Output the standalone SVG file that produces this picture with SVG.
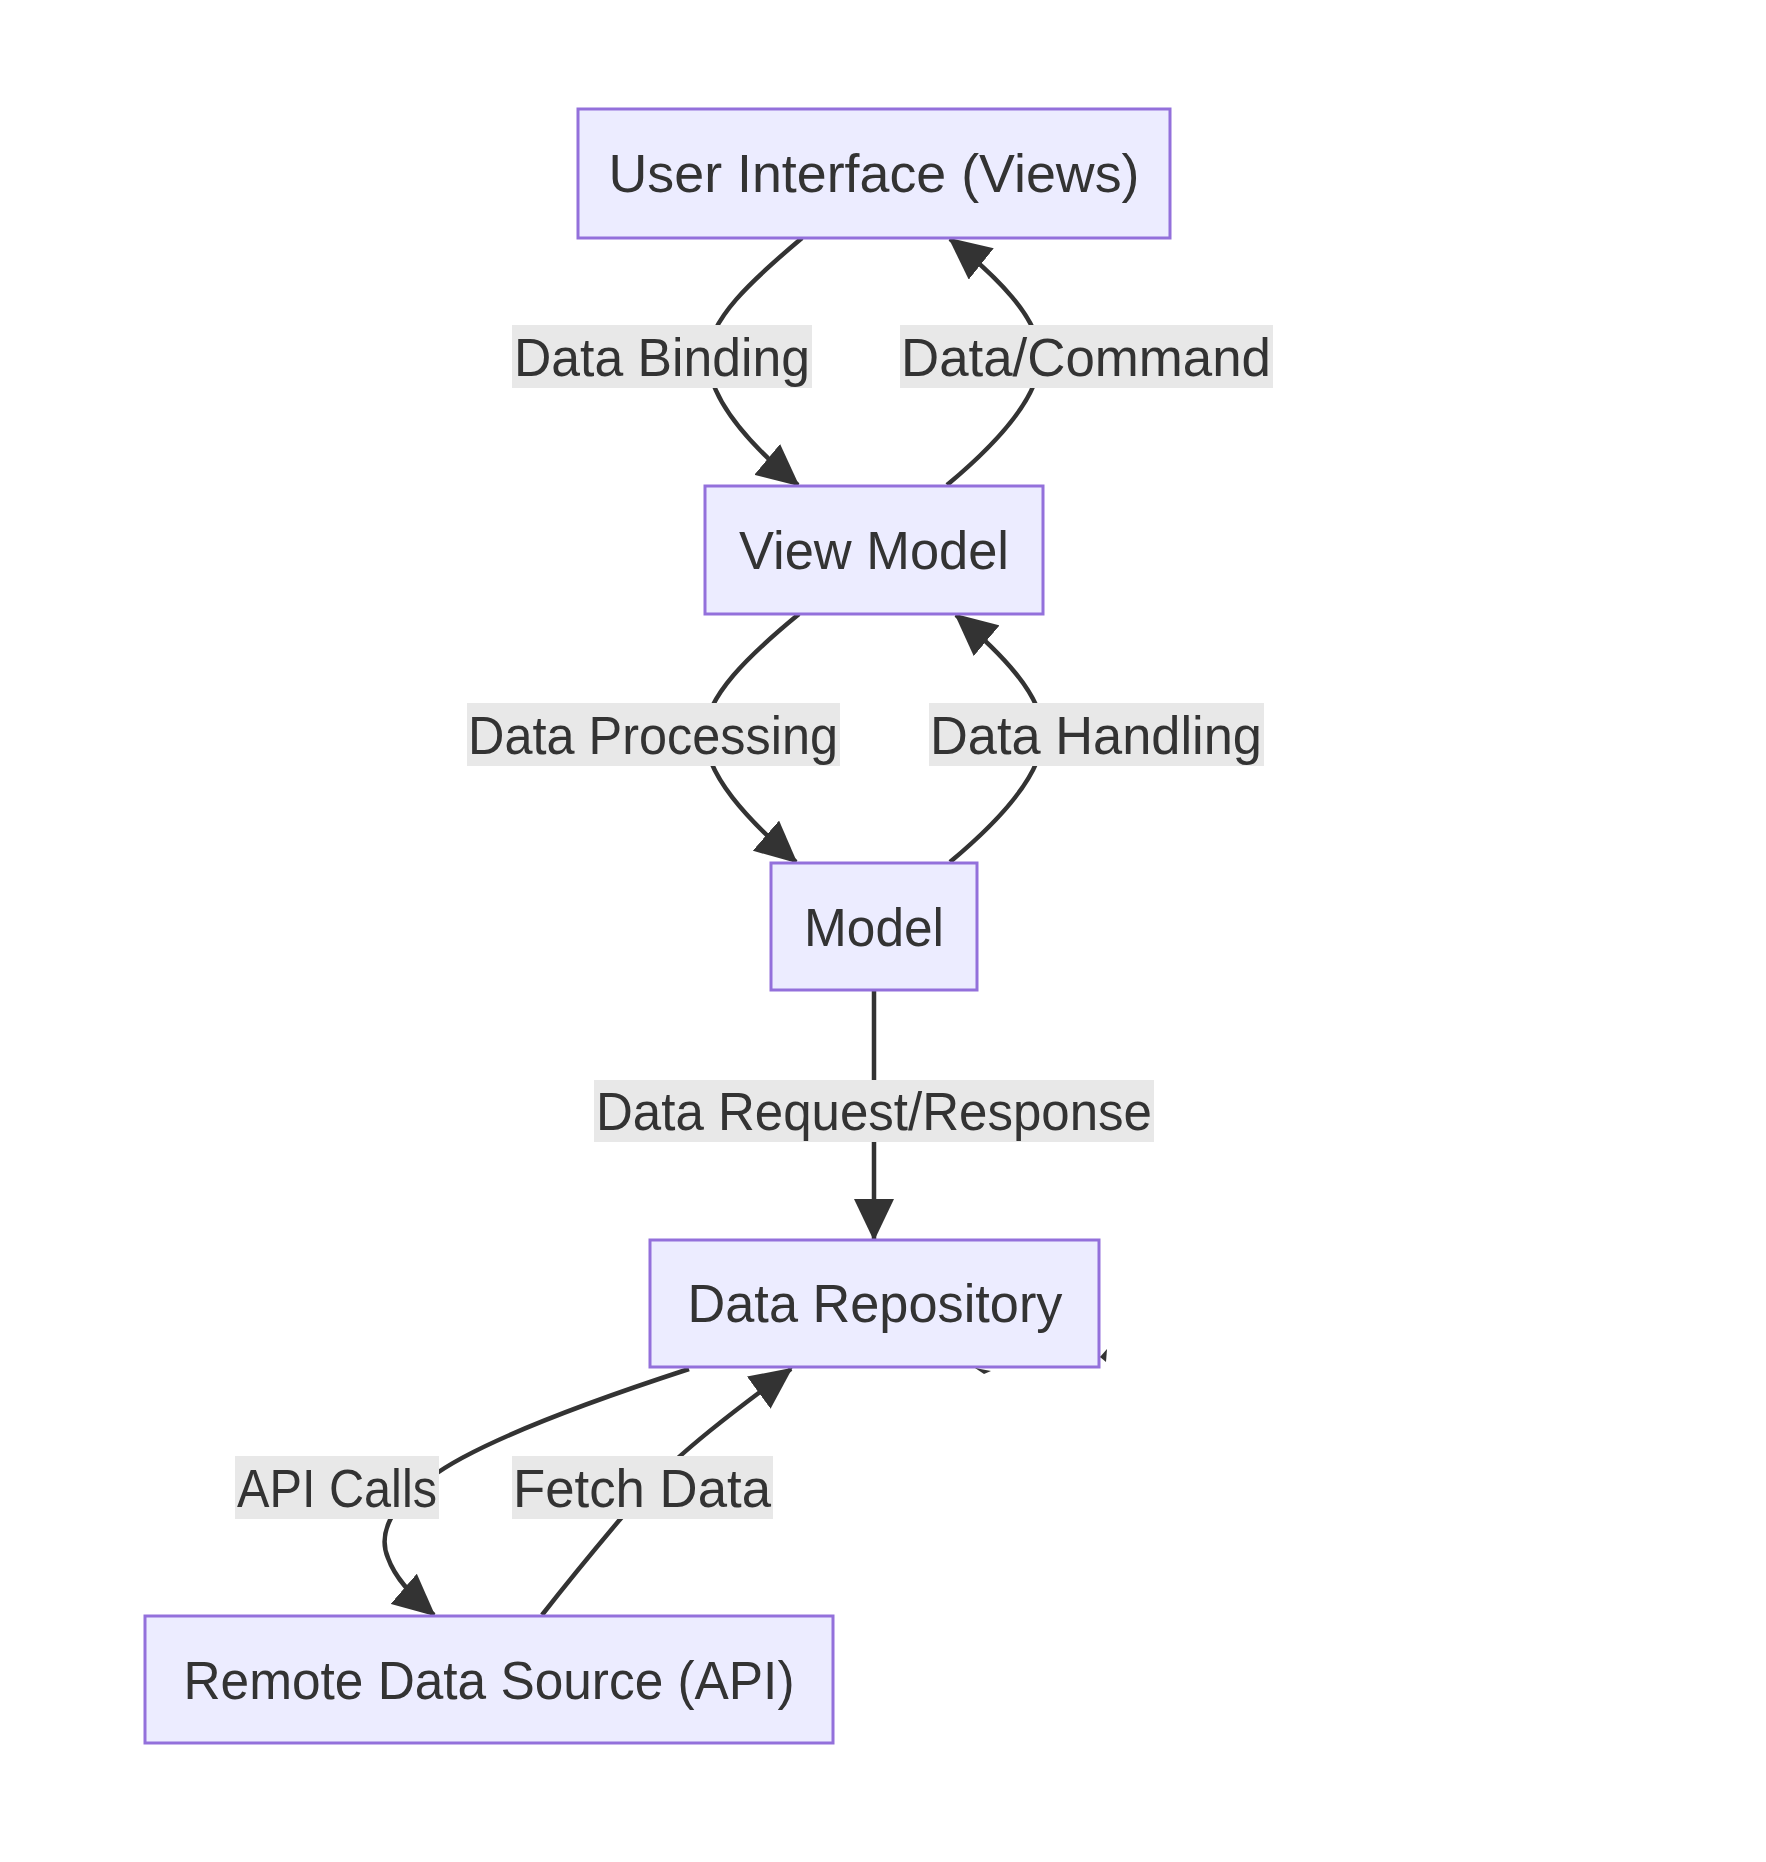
<svg xmlns="http://www.w3.org/2000/svg" width="1766" height="1862" viewBox="0 0 1766 1862">
<style>
.node rect{fill:#ECECFF;stroke:#9370DB;stroke-width:3}
.node text{font-family:"Liberation Sans",Arial,sans-serif;font-size:53px;fill:#333;text-anchor:middle}
.edge path{fill:none;stroke:#333;stroke-width:4.5}
.elabel rect{fill:#e8e8e8}
.elabel text{font-family:"Liberation Sans",Arial,sans-serif;font-size:53px;fill:#333;text-anchor:middle}
.art{fill:#333}
</style>
<defs>
<marker id="arrow" viewBox="0 0 42 40" markerWidth="42" markerHeight="40" refX="40" refY="20" markerUnits="userSpaceOnUse" orient="auto">
<path d="M0,0 L42,20 L0,40 z" fill="#333"/>
</marker>
</defs>
<rect width="1766" height="1862" fill="#ffffff"/>
<g id="connectors" class="edge">
<path d="M 802 238 C 752 280, 708 320, 708 357 C 708 398, 750 445, 798 485" marker-end="url(#arrow)"/>
<path d="M 947 485 C 995 445, 1040 398, 1040 357 C 1040 318, 995 275, 950 239" marker-end="url(#arrow)"/>
<path d="M 799 614 C 749 655, 705 697, 705 734 C 705 775, 748 820, 796 862" marker-end="url(#arrow)"/>
<path d="M 950 862 C 998 822, 1043 775, 1043 734 C 1043 695, 1000 652, 956 615" marker-end="url(#arrow)"/>
<path d="M 874 990 L 874 1239" marker-end="url(#arrow)"/>
<path d="M 689 1369 C 600 1398, 480 1440, 430 1478 C 390 1505, 378 1535, 388 1558 C 395 1578, 412 1596, 434 1615" marker-end="url(#arrow)"/>
<path d="M 542 1615 C 585 1560, 615 1525, 645 1490 C 680 1452, 735 1410, 791 1369" marker-end="url(#arrow)"/>
</g>
<g id="edge-labels">
<g class="elabel" id="label-data-binding"><rect x="512" y="325" width="300" height="63"/><text x="662" y="376" textLength="296" lengthAdjust="spacingAndGlyphs">Data Binding</text></g>
<g class="elabel" id="label-data-command"><rect x="900" y="325" width="373" height="63"/><text x="1086" y="376" textLength="370" lengthAdjust="spacingAndGlyphs">Data/Command</text></g>
<g class="elabel" id="label-data-processing"><rect x="467" y="703" width="373" height="63"/><text x="653" y="754" textLength="370" lengthAdjust="spacingAndGlyphs">Data Processing</text></g>
<g class="elabel" id="label-data-handling"><rect x="929" y="703" width="335" height="63"/><text x="1096" y="754" textLength="332" lengthAdjust="spacingAndGlyphs">Data Handling</text></g>
<g class="elabel" id="label-data-request"><rect x="594" y="1080" width="560" height="62"/><text x="874" y="1130" textLength="556" lengthAdjust="spacingAndGlyphs">Data Request/Response</text></g>
<g class="elabel" id="label-api-calls"><rect x="235" y="1456" width="204" height="63"/><text x="337" y="1507" textLength="200" lengthAdjust="spacingAndGlyphs">API Calls</text></g>
<g class="elabel" id="label-fetch-data"><rect x="512" y="1456" width="261" height="63"/><text x="642" y="1507" textLength="258" lengthAdjust="spacingAndGlyphs">Fetch Data</text></g>
</g>
<g id="node-ui" class="node"><rect x="578" y="109" width="592" height="129"/><text x="874" y="192" textLength="531" lengthAdjust="spacingAndGlyphs">User Interface (Views)</text></g>
<g id="node-vm" class="node"><rect x="705" y="486" width="338" height="128"/><text x="874" y="569" textLength="270" lengthAdjust="spacingAndGlyphs">View Model</text></g>
<g id="node-model" class="node"><rect x="771" y="863" width="206" height="127"/><text x="874" y="946" textLength="140" lengthAdjust="spacingAndGlyphs">Model</text></g>
<g id="node-repo" class="node"><rect x="650" y="1240" width="449" height="127"/><text x="875" y="1322" textLength="375" lengthAdjust="spacingAndGlyphs">Data Repository</text></g>
<g id="node-remote" class="node"><rect x="145" y="1616" width="688" height="127"/><text x="489" y="1699" textLength="611" lengthAdjust="spacingAndGlyphs">Remote Data Source (API)</text></g>
<path class="art" d="M975,1368 L991,1371 L984,1374 Z"/>
<path class="art" d="M1107,1349 L1100,1357 L1106,1362 Z"/>
</svg>
